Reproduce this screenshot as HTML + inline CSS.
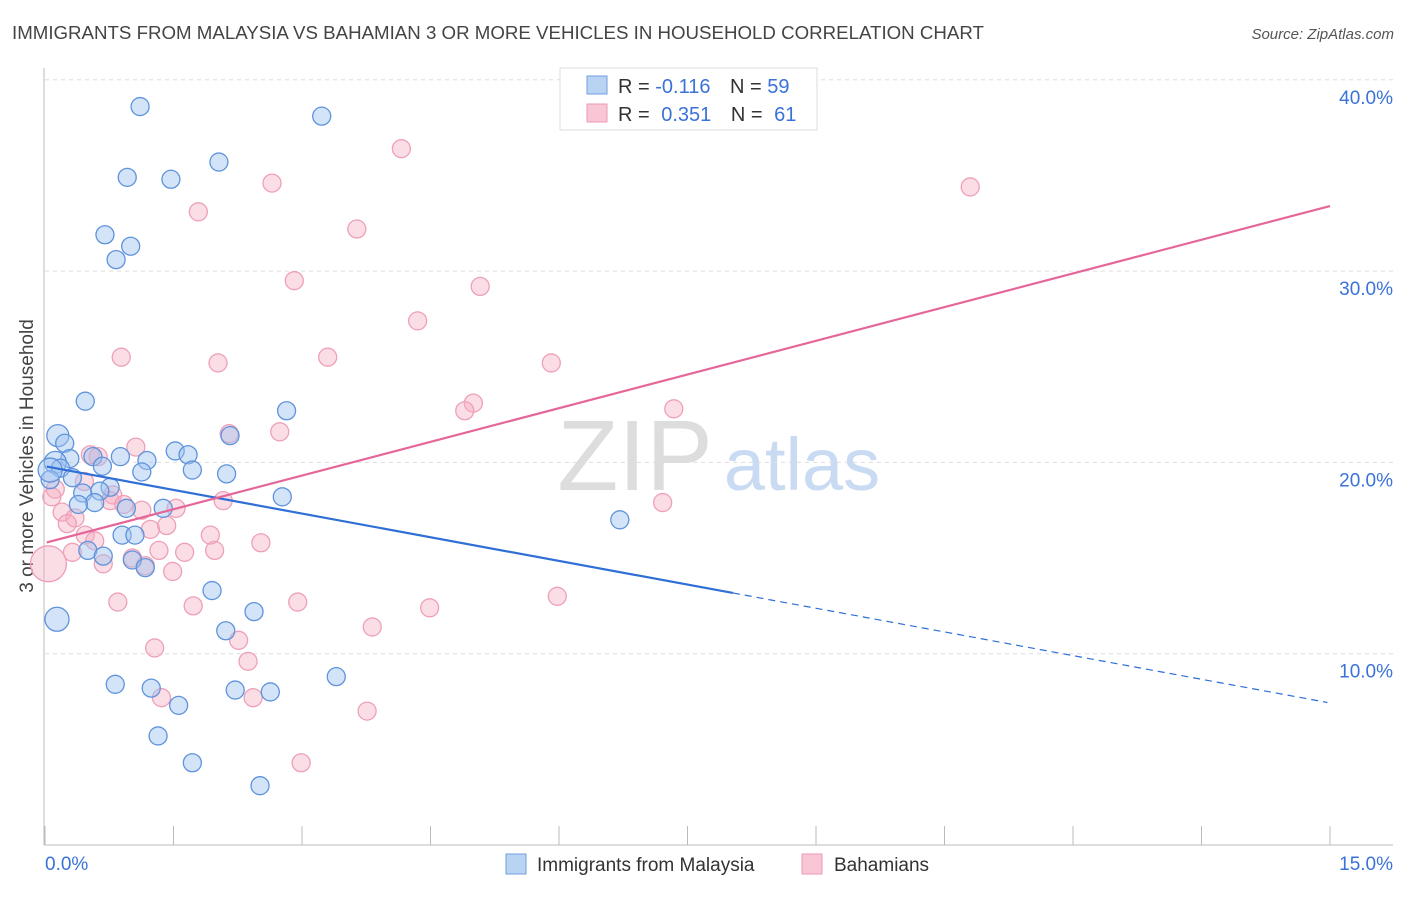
<!DOCTYPE html>
<html><head><meta charset="utf-8">
<style>
body{margin:0;background:#fff;width:1406px;height:892px;overflow:hidden;font-family:"Liberation Sans",sans-serif;}
svg text{font-family:"Liberation Sans",sans-serif;}
</style></head>
<body>
<svg id="chart" width="1406" height="892" viewBox="0 0 1406 892">
<text x="12" y="39" font-size="18.7" fill="#444">IMMIGRANTS FROM MALAYSIA VS BAHAMIAN 3 OR MORE VEHICLES IN HOUSEHOLD CORRELATION CHART</text>
<text x="1394" y="39" font-size="15" fill="#555" text-anchor="end" font-style="italic">Source: ZipAtlas.com</text>
<text transform="translate(33,456) rotate(-90)" font-size="19" fill="#444" text-anchor="middle">3 or more Vehicles in Household</text>
<g>
<text x="635" y="490" font-size="100" fill="#ddd" font-family="Liberation Serif" text-anchor="middle">ZIP</text>
<text x="802" y="490" font-size="74" fill="#c9dbf2" text-anchor="middle">atlas</text>
</g>
<g id="grid"></g>
<g id="axes"></g>
<g id="pts"></g>
<g id="lines"></g>
<g>
<rect x="560" y="68" width="257" height="62" fill="#fff" stroke="#ddd"/>
<rect x="587" y="76" width="20" height="18" fill="#b9d3f3" stroke="#6f9fe0"/>
<rect x="587" y="104" width="20" height="18" fill="#f8c6d4" stroke="#ee9ab2"/>
<text x="618" y="93" font-size="20" fill="#333">R = <tspan fill="#3a72d8">-0.116</tspan>  <tspan dx="14">N = </tspan><tspan fill="#3a72d8">59</tspan></text>
<text x="618" y="121" font-size="20" fill="#333">R = <tspan fill="#3a72d8" dx="6">0.351</tspan>  <tspan dx="14">N = </tspan><tspan fill="#3a72d8" dx="6">61</tspan></text>
</g>
<g>
<rect x="506" y="854" width="20" height="20" fill="#b9d3f3" stroke="#6f9fe0"/>
<text x="537" y="871" font-size="19" fill="#333">Immigrants from Malaysia</text>
<rect x="802" y="854" width="20" height="20" fill="#f8c6d4" stroke="#ee9ab2"/>
<text x="834" y="871" font-size="19" fill="#333">Bahamians</text>
</g>
</svg>
<script>
const yTicks=[10,20,30,40];
const yTickLabels=["10.0%","20.0%","30.0%","40.0%"];
const xTickLabels=["0.0%","15.0%"];
const blueX=[1.11,3.23,2.03,0.96,1.47,0.70,1.00,0.83,0.47,2.82,0.15,0.23,2.16,1.52,1.67,0.29,0.56,0.88,1.19,0.12,0.18,0.67,1.13,1.72,2.12,0.32,0.06,0.44,0.76,0.64,2.77,0.58,0.39,0.95,1.38,6.71,0.90,1.05,0.50,0.68,1.02,1.17,1.95,2.44,0.14,2.11,3.40,0.82,1.24,2.22,2.63,1.56,1.32,1.72,2.51,0.06];
const blueY=[38.6,38.1,35.7,34.9,34.8,31.9,31.3,30.6,23.2,22.7,21.4,21.0,21.4,20.6,20.4,20.2,20.3,20.3,20.1,20.0,19.7,19.8,19.5,19.6,19.4,19.2,19.1,18.4,18.7,18.5,18.2,17.9,17.8,17.6,17.6,17.0,16.2,16.2,15.4,15.1,14.9,14.5,13.3,12.2,11.8,11.2,8.8,8.4,8.2,8.1,8.0,7.3,5.7,4.3,3.1,19.6];
const blueR=[9,9,9,9,9,9,9,9,9,9,11,9,9,9,9,9,9,9,9,11,9,9,9,9,9,9,9,9,9,9,9,9,9,9,9,9,9,9,9,9,9,9,9,9,12,9,9,9,9,9,9,9,9,9,9,12];
const pinkX=[4.16,10.80,2.65,1.79,3.64,2.91,5.08,4.35,0.89,3.30,5.91,2.02,5.00,4.90,7.34,2.15,2.74,1.06,0.53,0.62,0.46,0.12,0.08,0.79,0.76,0.92,2.08,7.21,0.20,0.35,1.13,1.53,0.26,1.42,1.23,0.47,1.93,0.58,2.52,1.33,0.32,1.63,1.98,1.02,0.68,1.17,1.49,0.04,0.85,1.73,2.95,4.49,5.98,3.82,2.26,1.28,2.37,1.36,2.43,3.76,2.99];
const pinkY=[36.4,34.4,34.6,33.1,32.2,29.5,29.2,27.4,25.5,25.5,25.2,25.2,23.1,22.7,22.8,21.5,21.6,20.8,20.4,20.3,19.0,18.6,18.2,18.3,18.0,17.8,18.0,17.9,17.4,17.1,17.5,17.6,16.8,16.7,16.5,16.2,16.2,15.9,15.8,15.4,15.3,15.3,15.4,15.0,14.7,14.6,14.3,14.7,12.7,12.5,12.7,12.4,13.0,11.4,10.7,10.3,9.6,7.7,7.7,7.0,4.3];
const blueFit=[19.8,-0.825], blueSolidEnd=8.03;
const pinkFit=[15.79,1.174];

const NS="http://www.w3.org/2000/svg";
const X0=45,X1=1330,Y0=845,PXY=19.13;
const sx=v=>X0+v/15*(X1-X0);
const sy=v=>Y0-v*PXY;
function el(t,a,p){const e=document.createElementNS(NS,t);for(const k in a)e.setAttribute(k,a[k]);p.appendChild(e);return e;}
const grid=document.getElementById('grid'),axes=document.getElementById('axes'),pts=document.getElementById('pts'),lines=document.getElementById('lines');
yTicks.forEach((t,i)=>{
 const g=el('line',{x1:45,x2:1393,y1:sy(t),y2:sy(t),stroke:'#ddd','stroke-dasharray':'4,4'},grid);
 
 
 const tx=el('text',{x:1393,y:sy(t)+24,'font-size':19,fill:'#3a72d8','text-anchor':'end'},axes);
 tx.textContent=yTickLabels[i];
 
 
});
const ya=el('line',{x1:44,x2:44,y1:68,y2:845,stroke:'#bbb'},axes);


const xa=el('line',{x1:44,x2:1393,y1:845,y2:845,stroke:'#bbb'},axes);


for(let i=0;i<=10;i++){const x=sx(i*1.5);const tk=el('line',{x1:x,x2:x,y1:826,y2:845,stroke:'#bbb'},axes);
 
 }
const xl0=el('text',{x:45,y:870,'font-size':19,fill:'#3a72d8'},axes);xl0.textContent=xTickLabels[0];


const xl1=el('text',{x:1393,y:870,'font-size':19,fill:'#3a72d8','text-anchor':'end'},axes);xl1.textContent=xTickLabels[1];


pinkX.forEach((v,i)=>{const c=el('circle',{cx:sx(v),cy:sy(pinkY[i]),r:i==47?18:9,fill:'rgba(246,170,193,0.4)',stroke:'#eea0b8','stroke-width':1.3},pts);
 
 });
blueX.forEach((v,i)=>{const c=el('circle',{cx:sx(v),cy:sy(blueY[i]),r:blueR[i],fill:'rgba(160,196,240,0.45)',stroke:'#5f93dc','stroke-width':1.3},pts);
 
 });
const bf=x=>blueFit[0]+blueFit[1]*x, pf=x=>pinkFit[0]+pinkFit[1]*x;
const l1=el('line',{x1:sx(0.02),y1:sy(bf(0.02)),x2:sx(blueSolidEnd),y2:sy(bf(blueSolidEnd)),stroke:'#2f6fd6','stroke-width':2.2},lines);


const l2=el('line',{x1:sx(blueSolidEnd),y1:sy(bf(blueSolidEnd)),x2:sx(14.97),y2:sy(bf(14.97)),stroke:'#2f6fd6','stroke-width':1.2,'stroke-dasharray':'7,5'},lines);


const l3=el('line',{x1:sx(0.02),y1:sy(pf(0.02)),x2:sx(15),y2:sy(pf(15)),stroke:'#e5679a','stroke-width':2.2},lines);


</script>
</body></html>
